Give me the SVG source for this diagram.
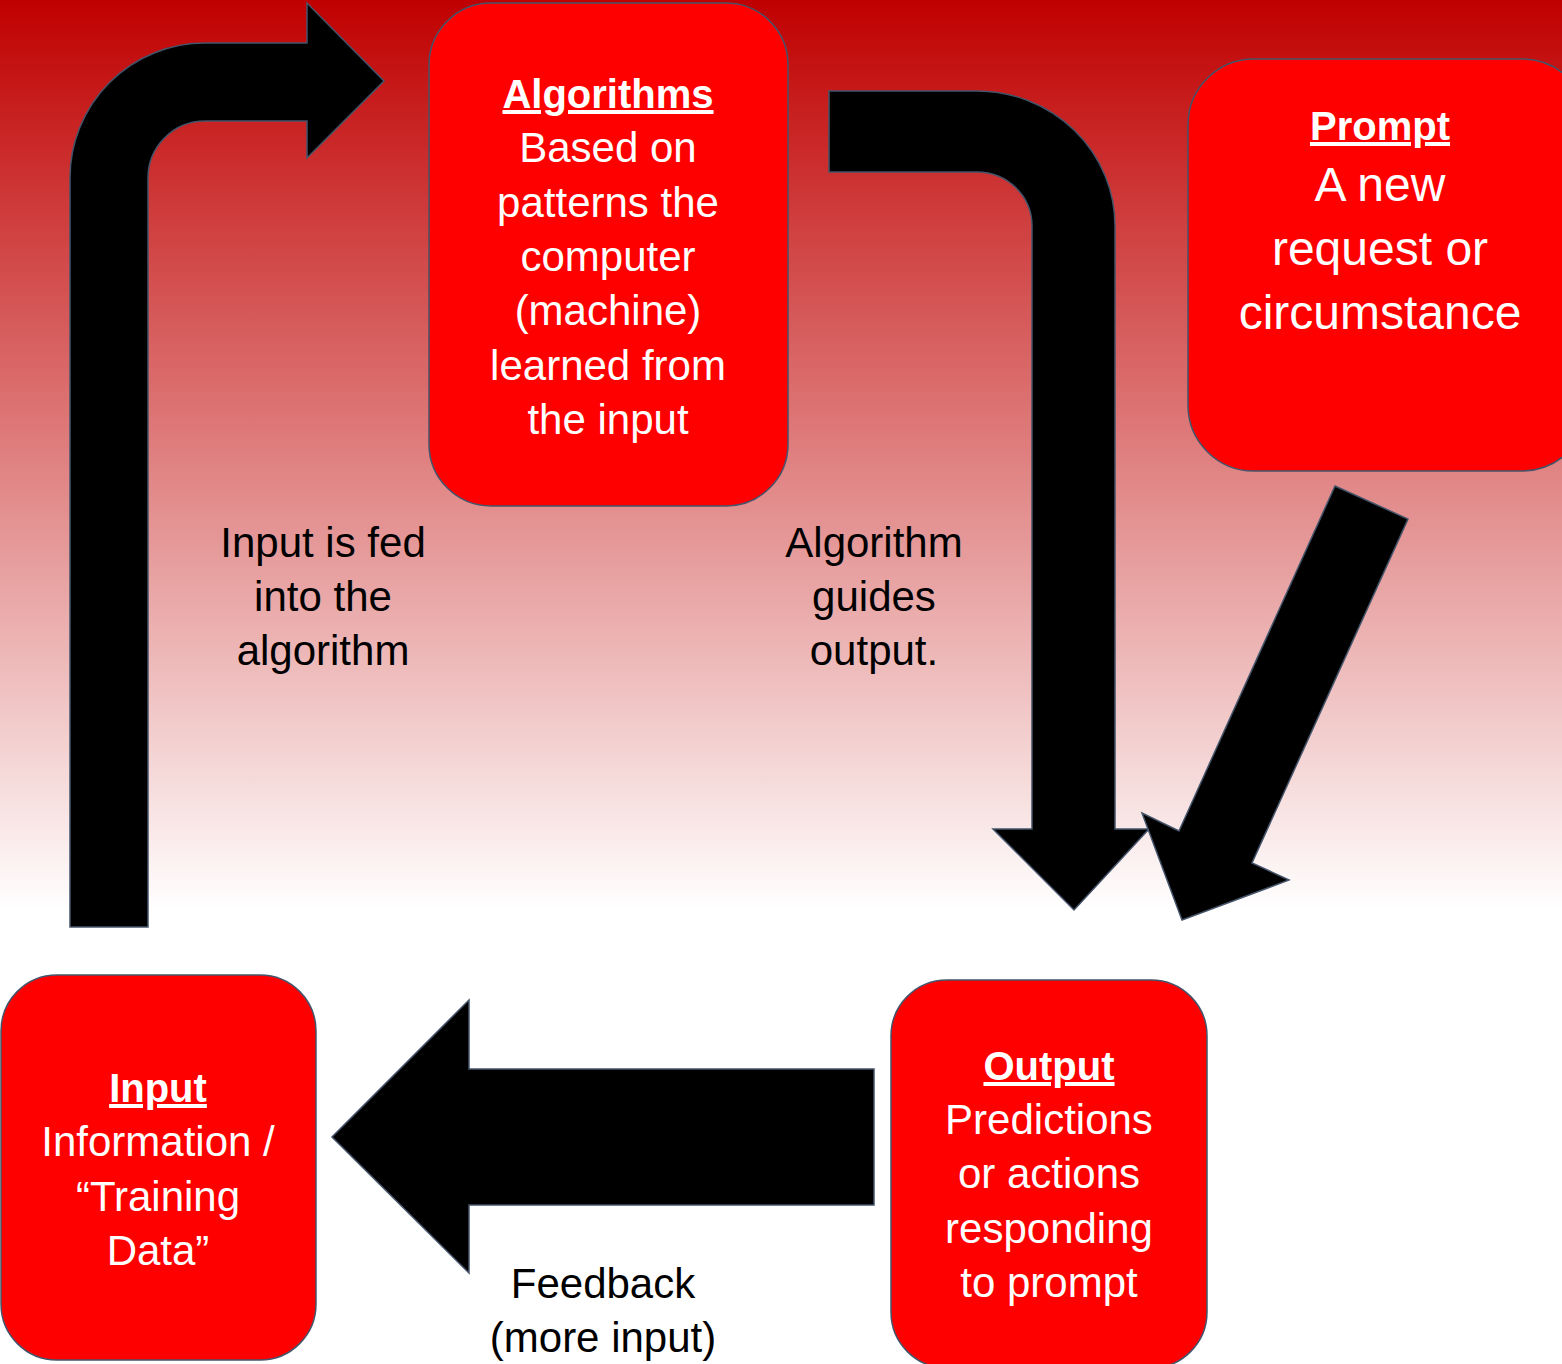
<svg xmlns="http://www.w3.org/2000/svg" width="1562" height="1364" viewBox="0 0 1562 1364">
<defs>
<linearGradient id="bg" x1="0" y1="0" x2="0" y2="910" gradientUnits="userSpaceOnUse">
<stop offset="0" stop-color="#C00000"/>
<stop offset="1" stop-color="#FFFFFF"/>
</linearGradient>
<style>
.box{fill:#FF0000;stroke:#44546A;stroke-width:1.5}
.arrow{fill:#000000;stroke:#44546A;stroke-width:1.5;stroke-linejoin:miter}
.wt{font-family:"Liberation Sans",Arial,sans-serif;font-size:42px;fill:#FFFFFF;text-anchor:middle}
.wh{font-family:"Liberation Sans",Arial,sans-serif;font-size:40px;font-weight:bold;fill:#FFFFFF;text-anchor:middle;text-decoration:underline}
.bt{font-family:"Liberation Sans",Arial,sans-serif;font-size:42px;fill:#000000;text-anchor:middle}
</style>
</defs>
<rect x="0" y="0" width="1562" height="1364" fill="url(#bg)"/>
<rect x="0" y="910" width="1562" height="454" fill="#FFFFFF"/>

<g id="connectors">
<path class="arrow" d="M70,927 L70,178 A135,135 0 0 1 205,43 L307,43 L307,3 L384,81 L307,158 L307,121 L205,121 A57,57 0 0 0 148,178 L148,927 Z"/>
<path class="arrow" d="M829,91 L977,91 A138,135 0 0 1 1115,226 L1115,829 L1149,829 L1074,910 L993,829 L1032,829 L1032,226 A55,54 0 0 0 977,172 L829,172 Z"/>
<path class="arrow" d="M1335,486 L1408,519 L1252,863 L1289,880 L1182,920 L1142,813 L1179,831 Z"/>
<path class="arrow" d="M874,1069 L469,1069 L469,1000 L332,1137 L469,1273 L469,1205 L874,1205 Z"/>
</g>

<g id="algorithms">
<rect class="box" x="429" y="3" width="359" height="503" rx="62" ry="62"/>
<text class="wh" x="608" y="108">Algorithms</text>
<text class="wt" x="608" y="162">Based on</text>
<text class="wt" x="608" y="217">patterns the</text>
<text class="wt" x="608" y="271">computer</text>
<text class="wt" x="608" y="325">(machine)</text>
<text class="wt" x="608" y="380">learned from</text>
<text class="wt" x="608" y="434">the input</text>
</g>

<g id="prompt">
<rect class="box" x="1188" y="59" width="400" height="412" rx="66" ry="66"/>
<text class="wh" x="1380" y="140">Prompt</text>
<text class="wt" x="1380" y="201" style="font-size:48px">A new</text>
<text class="wt" x="1380" y="265" style="font-size:48px">request or</text>
<text class="wt" x="1380" y="329" style="font-size:48px">circumstance</text>
</g>

<g id="output">
<rect class="box" x="891" y="980" width="316" height="388" rx="56" ry="56"/>
<text class="wh" x="1049" y="1080">Output</text>
<text class="wt" x="1049" y="1134">Predictions</text>
<text class="wt" x="1049" y="1188">or actions</text>
<text class="wt" x="1049" y="1243">responding</text>
<text class="wt" x="1049" y="1297">to prompt</text>
</g>

<g id="input">
<rect class="box" x="1" y="975" width="315" height="385" rx="56" ry="56"/>
<text class="wh" x="158" y="1102">Input</text>
<text class="wt" x="158" y="1156">Information /</text>
<text class="wt" x="158" y="1211">“Training</text>
<text class="wt" x="158" y="1265">Data”</text>
</g>

<g id="labels">
<text class="bt" x="323" y="557">Input is fed</text>
<text class="bt" x="323" y="611">into the</text>
<text class="bt" x="323" y="665">algorithm</text>
<text class="bt" x="874" y="557">Algorithm</text>
<text class="bt" x="874" y="611">guides</text>
<text class="bt" x="874" y="665">output.</text>
<text class="bt" x="603" y="1298">Feedback</text>
<text class="bt" x="603" y="1352">(more input)</text>
</g>
</svg>
